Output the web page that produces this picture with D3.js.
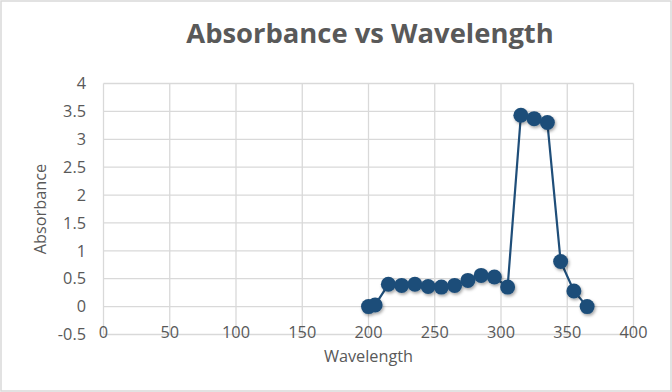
<!DOCTYPE html>
<html><head><meta charset="utf-8">
<script src="https://cdn.jsdelivr.net/npm/d3@7"></script>
<style>body{margin:0;background:#fff}svg{display:block}</style>
</head><body>
<svg id="c" width="672" height="392"></svg>
<script>
const wavelength = [200,205,215,225,235,245,255,265,275,285,295,305,315,325,335,345,355,365];
const absorbance = [0,0.03,0.40,0.38,0.40,0.36,0.35,0.38,0.47,0.56,0.53,0.35,3.43,3.37,3.30,0.81,0.28,0.0];
const xTicks = [0,50,100,150,200,250,300,350,400];
const yTicks = [-0.5,0,0.5,1,1.5,2,2.5,3,3.5,4];
const title = "Absorbance vs Wavelength";
const xTitle = "Wavelength";
const yTitle = "Absorbance";

const W=672,H=392;
const svg=d3.select("#c");
const font="'Open Sans', sans-serif";
const gray="#595959", grid="#d9d9d9", blue="#1f4e79";
const fs=16.3;

svg.append("rect").attr("x",1).attr("y",1).attr("width",W-2).attr("height",H-2)
  .attr("fill","#fff").attr("stroke",grid).attr("stroke-width",1.5);

const defs=svg.append("defs");
const f=defs.append("filter").attr("id","sh").attr("x","-50%").attr("y","-50%").attr("width","200%").attr("height","200%");
f.append("feDropShadow").attr("dx",1.2).attr("dy",1.8).attr("stdDeviation",1.4).attr("flood-color","#000").attr("flood-opacity",0.35);

const x=d3.scaleLinear().domain([0,400]).range([103.5,633.5]);
const y=d3.scaleLinear().domain([-0.5,4]).range([334.5,83.5]);

// gridlines
svg.append("g").selectAll("line").data(yTicks).join("line")
  .attr("x1",x(0)).attr("x2",x(400)).attr("y1",d=>y(d)).attr("y2",d=>y(d))
  .attr("stroke",grid).attr("stroke-width",1.3);
svg.append("g").selectAll("line").data(xTicks).join("line")
  .attr("y1",y(-0.5)).attr("y2",y(4)).attr("x1",d=>x(d)).attr("x2",d=>x(d))
  .attr("stroke",grid).attr("stroke-width",1.3);

// y tick labels
svg.append("g").selectAll("text").data(yTicks).join("text")
  .attr("x",86).attr("y",d=>y(d)).attr("dy","0.35em").attr("text-anchor","end")
  .attr("font-family",font).attr("font-size",fs).attr("fill",gray)
  .text(d=>d);
// x tick labels
svg.append("g").selectAll("text").data(xTicks).join("text")
  .attr("x",d=>x(d)).attr("y",332).attr("dy","0.35em").attr("text-anchor","middle")
  .attr("font-family",font).attr("font-size",fs).attr("fill",gray)
  .text(d=>d);

// axis titles
svg.append("text").attr("x",(x(0)+x(400))/2).attr("y",356).attr("dy","0.35em")
  .attr("text-anchor","middle").attr("font-family",font).attr("font-size",fs).attr("fill",gray).text(xTitle);
svg.append("text").attr("transform",`translate(40,${(y(-0.5)+y(4))/2}) rotate(-90)`).attr("dy","0.35em")
  .attr("text-anchor","middle").attr("font-family",font).attr("font-size",fs).attr("fill",gray).text(yTitle);

// title
svg.append("text").attr("x",370).attr("y",43).attr("text-anchor","middle")
  .attr("font-family",font).attr("font-weight","bold").attr("font-size",27.4).attr("fill",gray).text(title);

const pts=wavelength.map((w,i)=>[w,absorbance[i]]);
svg.append("path").datum(pts).attr("fill","none").attr("stroke",blue).attr("stroke-width",2.2)
  .attr("d",d3.line().x(d=>x(d[0])).y(d=>y(d[1])));
svg.append("g").attr("filter","url(#sh)").selectAll("circle").data(pts).join("circle")
  .attr("cx",d=>x(d[0])).attr("cy",d=>y(d[1])).attr("r",7.5).attr("fill",blue);
</script>
</body></html>
